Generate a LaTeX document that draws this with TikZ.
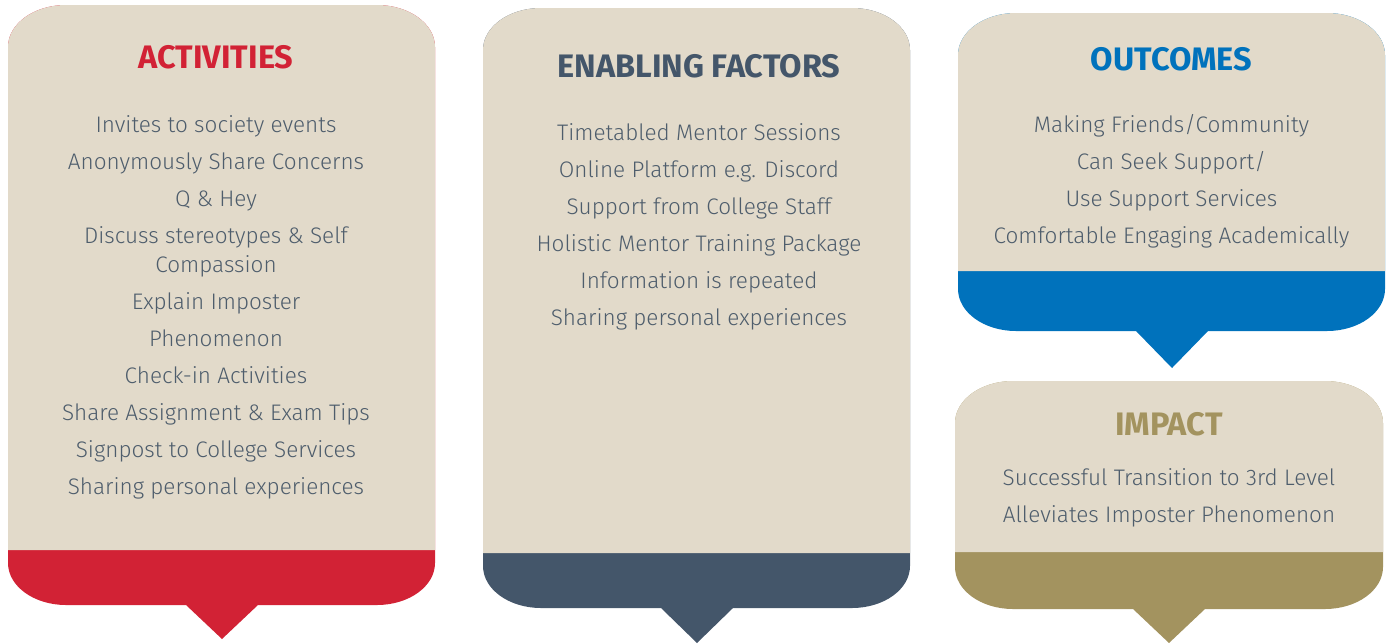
\documentclass[tikz,border=0pt]{standalone}
\usepackage{fontspec}
\setmainfont{Fira Sans Light}[BoldFont={Fira Sans Bold}]
\usepackage{tikz}
\usetikzlibrary{positioning}

\definecolor{paper}{HTML}{E2DACA}
\definecolor{actred}{HTML}{D22235}
\definecolor{efslate}{HTML}{44566A}
\definecolor{outblue}{HTML}{0072BC}
\definecolor{impgold}{HTML}{A3935F}
\definecolor{bodygrey}{HTML}{4E5D6C}

\tikzset{
  heading/.style={font=\bfseries\fontsize{32.5}{32.5}\selectfont, inner sep=0pt, anchor=base},
  item/.style={font=\fontsize{22.5}{22.5}\selectfont, text=bodygrey, inner sep=0pt, outer sep=0pt,
    text height=16pt, text depth=5pt},
  first/.style={item, anchor=base},
}

% callout: x1, x2, top, band top, bottom, tip x, tip y, band colour
\newcommand\speechpanel[8]{%
  \fill[#8] (#1,#3+42) arc[start angle=180,end angle=270,x radius=58,y radius=42]
    -- (#2-58,#3) arc[start angle=270,end angle=360,x radius=58,y radius=42]
    -- (#2,#5-42) arc[start angle=0,end angle=90,x radius=58,y radius=42]
    -- (#6+36,#5) -- (#6,#7) -- (#6-36,#5)
    -- (#1+58,#5) arc[start angle=90,end angle=180,x radius=58,y radius=42] -- cycle;
  \fill[paper] (#1,#4) -- (#1,#3+42) arc[start angle=180,end angle=270,x radius=58,y radius=42]
    -- (#2-58,#3) arc[start angle=270,end angle=360,x radius=58,y radius=42]
    -- (#2,#4) -- cycle;
}

\begin{document}
\begin{tikzpicture}[x=1pt,y=-1pt]
  \useasboundingbox (0,0) rectangle (1392,643);

  \speechpanel{8}{435}{5}{550}{605}{222}{639}{actred}
  \speechpanel{483}{910}{8}{553}{608}{697}{643}{efslate}
  \speechpanel{958}{1385}{13}{271}{331}{1172}{368}{outblue}
  \speechpanel{955}{1383}{381}{552}{609}{1169}{643}{impgold}

  % activities
  \node (act) [heading, text=actred] at (216,68) {ACTIVITIES};
  \node (act1) [first] at (216,132) {Invites to society events};
  \node (act2) [item, below=16pt of act1] {Anonymously Share Concerns};
  \node (act3) [item, below=16pt of act2] {Q \& Hey};
  \node (act4) [item, below=16pt of act3] {Discuss stereotypes \& Self};
  \node (act4b) [item, below=8pt of act4] {Compassion};
  \node (act5) [item, below=16pt of act4b] {Explain Imposter};
  \node (act5b) [item, below=16pt of act5] {Phenomenon};
  \node (act6) [item, below=16pt of act5b] {Check-in Activities};
  \node (act7) [item, below=16pt of act6] {Share Assignment \& Exam Tips};
  \node (act8) [item, below=16pt of act7] {Signpost to College Services};
  \node (act9) [item, below=16pt of act8] {Sharing personal experiences};

  % enabling factors
  \node (ef) [heading, text=efslate] at (699,77) {ENABLING FACTORS};
  \node (ef1) [first] at (699,140) {Timetabled Mentor Sessions};
  \node (ef2) [item, below=16pt of ef1] {Online Platform e.g. Discord};
  \node (ef3) [item, below=16pt of ef2] {Support from College Staff};
  \node (ef4) [item, below=16pt of ef3] {Holistic Mentor Training Package};
  \node (ef5) [item, below=16pt of ef4] {Information is repeated};
  \node (ef6) [item, below=16pt of ef5] {Sharing personal experiences};

  % outcomes
  \node (out) [heading, text=outblue] at (1171.5,70) {OUTCOMES};
  \node (out1) [first] at (1171.5,132) {Making Friends/Community};
  \node (out2) [item, below=16pt of out1] {Can Seek Support/};
  \node (out3) [item, below=16pt of out2] {Use Support Services};
  \node (out4) [item, below=16pt of out3] {Comfortable Engaging Academically};

  % impact
  \node (imp) [heading, text=impgold] at (1169,435) {IMPACT};
  \node (imp1) [first] at (1169,485) {Successful Transition to 3rd Level};
  \node (imp2) [item, below=16pt of imp1] {Alleviates Imposter Phenomenon};
\end{tikzpicture}
\end{document}
